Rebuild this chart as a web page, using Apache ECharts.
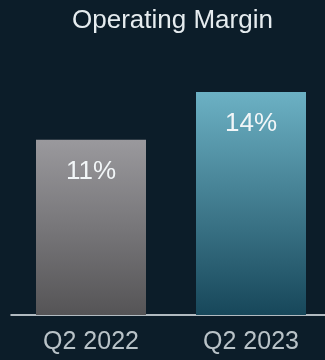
<!DOCTYPE html>
<html>
<head>
<meta charset="utf-8">
<script src="https://cdn.jsdelivr.net/npm/echarts@6/dist/echarts.min.js"></script>
<style>
  html, body { margin: 0; padding: 0; background: #0c1d29; overflow: hidden; }
  #chart { width: 331px; height: 360px; }
</style>
</head>
<body>
<div id="chart"></div>
<script>
// Operating margin by quarter (percent)
const categories = ['Q2 2022', 'Q2 2023'];
const marginValues = [11, 14];

const barGradients = [
  ['#9a999d', '#555456'],
  ['#6cb1c4', '#17475a']
];

const chart = echarts.init(document.getElementById('chart'), null, { renderer: 'canvas' });

chart.setOption({
  backgroundColor: '#0c1d29',
  animation: false,
  title: {
    text: 'Operating Margin',
    left: 67,
    top: 3,
    textStyle: {
      color: '#e6ecef',
      fontSize: 26,
      fontWeight: 'normal',
      fontFamily: 'Liberation Sans, Arial, sans-serif'
    }
  },
  grid: { left: 11, right: 0, top: 60, bottom: 45 },
  xAxis: {
    type: 'category',
    data: categories,
    axisLine: { show: true, lineStyle: { color: '#e8eef2', width: 1.5 } },
    axisTick: { show: false },
    axisLabel: {
      color: '#b9c3c8',
      fontSize: 25,
      margin: 15,
      fontFamily: 'Liberation Sans, Arial, sans-serif'
    }
  },
  yAxis: {
    type: 'value',
    min: 0,
    max: 16,
    show: false,
    splitLine: { show: false }
  },
  series: [{
    type: 'bar',
    barWidth: 110,
    data: marginValues.map((v, i) => ({
      value: v,
      itemStyle: {
        color: new echarts.graphic.LinearGradient(0, 0, 0, 1, [
          { offset: 0, color: barGradients[i][0] },
          { offset: 1, color: barGradients[i][1] }
        ])
      }
    })),
    label: {
      show: true,
      position: 'insideTop',
      distance: 19,
      formatter: p => p.value + '%',
      color: '#f2f6f8',
      fontSize: 26,
      fontFamily: 'Liberation Sans, Arial, sans-serif'
    }
  }]
});
</script>
</body>
</html>
